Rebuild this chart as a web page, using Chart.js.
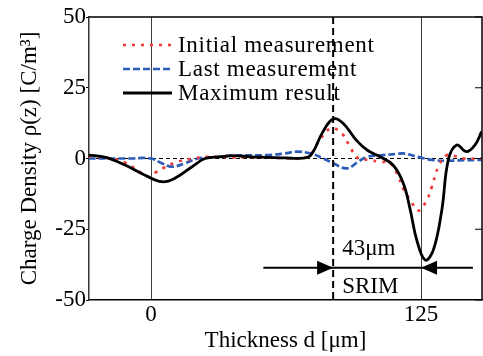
<!DOCTYPE html>
<html>
<head>
<meta charset="utf-8">
<script src="https://cdn.jsdelivr.net/npm/chart.js@4.4.1/dist/chart.umd.min.js"></script>
<style>
  html, body { margin:0; padding:0; background:#fff; }
  #wrap { width:483px; height:356px; }
</style>
</head>
<body>
<div id="wrap"><canvas id="chart" width="483" height="356"></canvas></div>
<script>
// thickness positions (um) and charge density (C/m^3)
const initialX = [-29, -20, -12, -4.3, -1.4, 2, 5.6, 12.5, 20, 25, 38, 50, 60, 66, 70, 74, 78, 83.6, 89, 92, 96, 101, 106, 110.6, 113.7, 117, 120, 123.8, 127.6, 130, 133, 136.9, 140, 144.6, 153];
const initialY = [0.8, 0.2, -1.5, -5.2, -6.4, -5, -3.4, -1.1, 0, 0.6, 0.4, 0.5, 0.2, 0, 0, 1.5, 6.5, 10.7, 8.3, 4.2, 0, -0.5, -1.2, -1.6, -5.1, -11, -14.7, -18.4, -14.7, -10, -2.9, 1.2, 1.0, 0, 0];

const lastX = [-29, -10, 0, 5, 9.6, 15.7, 21.8, 30, 38, 53.5, 62, 67.4, 73.6, 79.8, 84.4, 90.6, 96, 100, 107.5, 113.7, 116.8, 124.5, 130, 137, 145, 153];
const lastY = [0, 0, 0, -1.7, -2.9, -1.7, 0, 0.5, 1, 1.2, 1.8, 2.4, 1.8, 0, -1.7, -3.5, -1.1, 0.6, 1.2, 1.6, 1.8, 0.4, -0.5, -0.8, -0.6, -0.5];

const maxX = [-29, -21, -12, -3, 5, 11, 19, 25, 32, 38, 46, 54, 62, 70, 74, 79.6, 84.4, 89, 95, 100, 106, 112, 116.8, 120, 123, 126.9, 130.7, 134.6, 137.6, 141.5, 146, 150, 153];
const maxY = [1.2, 0.4, -2.3, -5.8, -8.2, -7, -2.9, 0, 0.6, 1.0, 0.6, 0.4, 0.2, 0.1, 1.2, 9.5, 14, 12.4, 6.5, 3, 0.6, -2.3, -8.8, -18.2, -28.8, -35.9, -32.3, -18.2, -0.5, 4.8, 2.4, 4.8, 9.5];

const xTicks = [0, 125];
const yTicks = [-50, -25, 0, 25, 50];

// annotation: SRIM range marker
const srimX = 84.3;
const sampleEdge = 125;
const arrowY = -38.6;
const arrowFrom = 52, arrowTo = 149;

const serif = "'Liberation Serif', 'Times New Roman', serif";
const RED = '#f23a3a', BLUE = '#2a5cb8';

function pts(xs, ys){ return xs.map((x, i) => ({ x: x, y: ys[i] })); }

const overlay = {
  id: 'overlay',
  beforeDatasetsDraw(chart){
    const { ctx, chartArea: a, scales: { y } } = chart;
    const y0 = y.getPixelForValue(0);
    ctx.save();
    ctx.strokeStyle = '#000';
    ctx.lineWidth = 1;
    ctx.setLineDash([4, 3]);
    ctx.beginPath(); ctx.moveTo(a.left, y0); ctx.lineTo(a.right, y0); ctx.stroke();
    ctx.restore();
  },
  afterDatasetsDraw(chart){
    const { ctx, chartArea: a, scales: { x, y } } = chart;
    ctx.save();

    // SRIM dashed marker
    const mx = x.getPixelForValue(srimX);
    ctx.strokeStyle = '#000';
    ctx.lineWidth = 2;
    ctx.setLineDash([7, 4]);
    ctx.beginPath(); ctx.moveTo(mx, a.top); ctx.lineTo(mx, a.bottom); ctx.stroke();
    ctx.setLineDash([]);

    // range arrow
    const ay = y.getPixelForValue(arrowY);
    const ex = x.getPixelForValue(sampleEdge);
    ctx.lineWidth = 2;
    ctx.beginPath(); ctx.moveTo(x.getPixelForValue(arrowFrom), ay); ctx.lineTo(x.getPixelForValue(arrowTo), ay); ctx.stroke();
    ctx.fillStyle = '#000';
    ctx.beginPath(); ctx.moveTo(mx, ay); ctx.lineTo(mx - 16, ay - 7); ctx.lineTo(mx - 16, ay + 7); ctx.closePath(); ctx.fill();
    ctx.beginPath(); ctx.moveTo(ex, ay); ctx.lineTo(ex + 16, ay - 7); ctx.lineTo(ex + 16, ay + 7); ctx.closePath(); ctx.fill();

    ctx.font = '23px ' + serif;
    ctx.textAlign = 'left';
    ctx.textBaseline = 'middle';
    ctx.fillText('43\u03bcm', mx + 9, ay - 19);
    ctx.fillText('SRIM', mx + 9, ay + 19);

    // frame: top and right
    ctx.lineWidth = 1.5;
    ctx.beginPath();
    ctx.moveTo(a.left, a.top); ctx.lineTo(a.right, a.top); ctx.lineTo(a.right, a.bottom);
    ctx.stroke();
    ctx.lineWidth = 1;
    yTicks.forEach(v => {
      const py = y.getPixelForValue(v);
      ctx.beginPath(); ctx.moveTo(a.right - 7, py); ctx.lineTo(a.right, py); ctx.stroke();
    });

    // legend
    const rows = [
      { ds: chart.data.datasets[0], y: 45 },
      { ds: chart.data.datasets[1], y: 69 },
      { ds: chart.data.datasets[2], y: 93 }
    ];
    if ('letterSpacing' in ctx) ctx.letterSpacing = '0.7px';
    rows.forEach(r => {
      ctx.strokeStyle = r.ds.borderColor;
      ctx.lineWidth = r.ds.borderWidth;
      ctx.setLineDash(r.ds.borderDash || []);
      ctx.beginPath(); ctx.moveTo(123, r.y); ctx.lineTo(172, r.y); ctx.stroke();
      ctx.setLineDash([]);
      ctx.fillStyle = '#000';
      ctx.fillText(r.ds.label, 178, r.y + 1);
    });
    ctx.restore();
  }
};

new Chart(document.getElementById('chart'), {
  type: 'line',
  data: {
    datasets: [
      { label: 'Initial measurement', data: pts(initialX, initialY), borderColor: RED, borderWidth: 2.7, borderDash: [3, 6], order: 1 },
      { label: 'Last measurement', data: pts(lastX, lastY), borderColor: BLUE, borderWidth: 2.7, borderDash: [7, 3], order: 2 },
      { label: 'Maximum result', data: pts(maxX, maxY), borderColor: '#000', borderWidth: 2.8, order: 0 }
    ]
  },
  options: {
    responsive: false,
    animation: false,
    layout: { padding: { top: 17, right: 1, left: 0, bottom: 0 } },
    elements: { point: { radius: 0 }, line: { tension: 0.4, fill: false } },
    plugins: { legend: { display: false }, tooltip: { enabled: false } },
    scales: {
      x: {
        type: 'linear',
        min: -28.7,
        max: 153.2,
        afterFit(s){ s.height = 56; },
        afterBuildTicks(s){ s.ticks = xTicks.map(v => ({ value: v })); },
        grid: { color: 'rgba(0,0,0,0.75)', lineWidth: 1, drawTicks: false },
        border: { display: true, color: '#000', width: 1.5 },
        ticks: { color: '#000', font: { family: serif, size: 23 }, padding: 1, maxRotation: 0 },
        title: { display: true, text: 'Thickness d [\u03bcm]', color: '#000', font: { family: serif, size: 23 }, padding: { top: 0, bottom: 1 } }
      },
      y: {
        min: -50,
        max: 50,
        afterFit(s){ s.width = 89; },
        afterBuildTicks(s){ s.ticks = yTicks.map(v => ({ value: v })); },
        grid: { drawOnChartArea: false, color: '#000', tickLength: 3 },
        border: { display: true, color: '#333', width: 1.5 },
        ticks: { color: '#000', font: { family: serif, size: 23 }, padding: 0 },
        title: { display: true, text: 'Charge Density \u03c1(z) [C/m\u00b3]', color: '#000', font: { family: serif, size: 23 }, padding: { top: 16, bottom: 0 } }
      }
    }
  },
  plugins: [overlay]
});
</script>
</body>
</html>
